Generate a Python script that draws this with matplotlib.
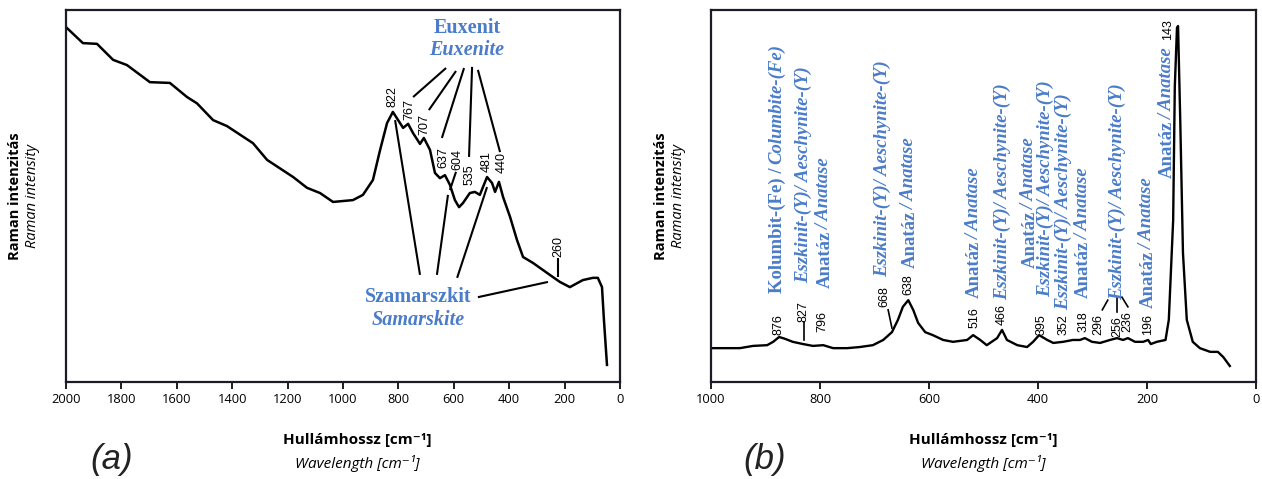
import matplotlib
matplotlib.use('Agg')
import matplotlib.pyplot as plt

# ---------------- data ----------------
wn_a = [2000, 1939, 1888, 1830, 1780, 1697, 1625, 1563, 1527, 1469, 1419, 1325, 1274, 1180, 1130,
        1083, 1036, 964, 928, 892, 866, 841, 820, 801, 783, 765, 747, 722, 708, 686, 668, 650, 632,
        614, 596, 581, 567, 542, 524, 506, 480, 462, 451, 437, 422, 397, 372, 350, 314, 278, 242,
        217, 181, 134, 98, 80, 65, 58, 47]
int_a = [95.4, 91.1, 90.9, 86.6, 85.2, 80.6, 80.4, 76.6, 74.9, 70.4, 68.8, 64.2, 59.7, 55.1, 52.2,
         50.8, 48.4, 48.9, 50.3, 54.3, 62.4, 69.6, 72.6, 70.4, 68.3, 69.4, 66.9, 64.0, 65.6, 62.4,
         56.2, 54.8, 55.6, 53.0, 48.9, 47.0, 48.1, 50.8, 51.1, 50.3, 55.1, 53.5, 51.1, 53.8, 49.7,
         44.4, 38.2, 33.6, 32.0, 30.1, 28.2, 26.9, 25.5, 27.4, 28.0, 28.0, 25.5, 16.7, 4.6]

wn_b = [1000, 947, 923, 897, 886, 875, 864, 850, 831, 813, 794, 776, 750, 727, 703, 684, 668, 657,
        648, 638, 629, 620, 607, 593, 574, 556, 530, 519, 506, 494, 475, 466, 457, 438, 420, 409,
        398, 383, 372, 354, 336, 323, 314, 301, 286, 268, 255, 244, 235, 222, 207, 198, 193, 182,
        166, 160, 152, 149, 145, 143, 139, 134, 127, 116, 103, 84, 70, 60, 48]
int_b = [9.1, 9.1, 9.7, 9.9, 10.8, 12.1, 11.6, 10.8, 10.2, 9.7, 9.9, 9.1, 9.1, 9.4, 9.9, 11.3, 13.4,
         16.7, 20.2, 22.0, 19.4, 15.9, 13.4, 12.6, 11.3, 10.8, 11.3, 12.6, 11.3, 9.9, 11.8, 14.0,
         11.3, 9.9, 9.4, 10.8, 12.6, 11.3, 10.5, 10.8, 11.3, 11.3, 11.8, 10.8, 10.5, 11.3, 11.8,
         11.3, 11.8, 10.8, 10.8, 11.3, 10.2, 10.8, 11.3, 16.7, 43.5, 79.3, 95.2, 95.7, 70.4, 34.7,
         16.7, 10.8, 9.1, 8.1, 8.1, 6.7, 4.3]

peaks_a = ['822', '767', '707', '637', '604', '535', '481', '440', '260']
peaks_b = ['876', '827', '796', '668', '638', '516', '466', '395', '352', '318', '296', '256',
           '236', '196', '143']
ticks_a = [2000, 1800, 1600, 1400, 1200, 1000, 800, 600, 400, 200, 0]
ticks_b = [1000, 800, 600, 400, 200, 0]

# ---------------- style ----------------
BLUE = '#4a7cc9'
SPINE = '#1c1c28'
SANS = ['Open Sans', 'DejaVu Sans']
SERIF = 'Liberation Serif'
NUM = 'Liberation Sans'

fig = plt.figure(figsize=(12.62, 4.79), dpi=100)
axa = fig.add_axes([66 / 1262, 97 / 479, 554 / 1262, 372 / 479])
axb = fig.add_axes([711 / 1262, 97 / 479, 545 / 1262, 372 / 479])

for ax, ticks, xmax in ((axa, ticks_a, 2000), (axb, ticks_b, 1000)):
    ax.set_xlim(xmax, 0)
    ax.set_ylim(0, 100)
    ax.set_yticks([])
    ax.set_xticks(ticks)
    for s in ax.spines.values():
        s.set_linewidth(1.6)
        s.set_color(SPINE)
    ax.tick_params(axis='x', direction='out', length=5, width=1.4, color=SPINE,
                   labelsize=9.3, pad=3)
    for lab in ax.get_xticklabels():
        lab.set_family(SANS)

axa.plot(wn_a, int_a, color='black', lw=1.8, solid_joinstyle='round')
axb.plot(wn_b, int_b, color='black', lw=1.7, solid_joinstyle='round')

# ---------------- number labels ----------------
pos_a = [(823, 73.9), (762, 70.4), (708, 66.4), (639, 57.5), (588, 57.0), (542, 53.0),
         (480, 56.5), (426, 56.2), (224, 33.6)]
for txt, (x, y) in zip(peaks_a, pos_a):
    axa.text(x, y, txt, rotation=90, ha='center', va='bottom', fontsize=9, family=NUM)

pos_b = [(877, 12.6), (830, 16.2), (795, 13.4), (681, 20.2), (638, 23.4), (516, 14.5),
         (466, 15.3), (393, 12.6), (354, 12.6), (317, 13.4), (290, 12.6), (255, 12.1),
         (237, 13.4), (198, 12.6), (161, 91.9)]
for txt, (x, y) in zip(peaks_b, pos_b):
    axb.text(x, y, txt, rotation=90, ha='center', va='bottom', fontsize=9, family=NUM)

# ---------------- leader lines ----------------
kw = dict(color='black', lw=1.5, solid_capstyle='butt')
segs_a = [((747, 628), (76.6, 84.4)), ((690, 592), (73.1, 83.6)), ((643, 563), (65.6, 84.4)),
          ((545, 534), (60.5, 84.7)), ((433, 513), (61.8, 83.9)),
          ((722, 812), (28.8, 70.4)), ((661, 621), (28.8, 50.3)), ((588, 480), (28.0, 52.4)),
          ((614, 592), (51.6, 56.5)), ((513, 260), (22.8, 26.9)), ((224, 224), (33.3, 28.2))]
for xs, ys in segs_a:
    axa.plot(xs, ys, **kw)

segs_b = [((830, 830), (16.0, 11.3)), ((675, 668), (19.4, 14.5)), ((282, 272), (19.4, 22.0)),
          ((255, 255), (18.8, 22.8)), ((246, 235), (22.8, 20.2))]
for xs, ys in segs_b:
    axb.plot(xs, ys, color='black', lw=1.2)

# ---------------- mineral names ----------------
axa.text(552, 95.2, 'Euxenit', ha='center', va='center', fontsize=14.5, family=SERIF,
         fontweight='bold', color=BLUE)
axa.text(552, 89.2, 'Euxenite', ha='center', va='center', fontsize=14.5, family=SERIF,
         fontweight='bold', fontstyle='italic', color=BLUE)
axa.text(729, 22.8, 'Szamarszkit', ha='center', va='center', fontsize=14.5, family=SERIF,
         fontweight='bold', color=BLUE)
axa.text(729, 16.7, 'Samarskite', ha='center', va='center', fontsize=14.5, family=SERIF,
         fontweight='bold', fontstyle='italic', color=BLUE)


def stack(ax, x, y, parts, size=13.5):
    prev = None
    for txt, style, weight, gap in parts:
        k = dict(rotation=90, ha='center', va='bottom', color=BLUE, fontsize=size,
                 family=SERIF, fontstyle=style, fontweight=weight)
        if prev is None:
            prev = ax.text(x, y, txt, **k)
        else:
            prev = ax.annotate(txt, xy=(0.5, 1), xycoords=prev, xytext=(0, gap),
                               textcoords='offset points', **k)


KOL = [('Kolumbit-(Fe) /', 'normal', 'bold', 0), ('Columbite-(Fe)', 'italic', 'bold', 2.5)]
ESZ = [('Eszkinit-(Y)/ Aeschynite-(Y)', 'italic', 'bold', 0)]
ANA = [('Anatáz', 'normal', 'bold', 0), ('/ Anatase', 'italic', 'bold', 0.5)]

labels_b = [(879, 23.9, KOL), (831, 26.6, ESZ), (791, 25.3, ANA), (686, 28.2, ESZ),
            (635, 30.6, ANA), (516, 22.6, ANA), (466, 22.0, ESZ), (415, 30.6, ANA),
            (387, 22.8, ESZ), (354, 19.4, ESZ), (317, 22.6, ANA), (255, 22.0, ESZ),
            (198, 19.9, ANA), (163, 54.8, ANA)]
for x, y, parts in labels_b:
    stack(axb, x, y, parts)

# ---------------- axis titles ----------------
for cx in (357, 983):
    fig.text(cx / 1262, 1 - 440 / 479, 'Hullámhossz [cm⁻¹]', ha='center', va='center',
             fontsize=11, fontweight='bold', family=SANS)
    fig.text(cx / 1262, 1 - 463 / 479, 'Wavelength [cm⁻¹]', ha='center', va='center',
             fontsize=11, fontstyle='italic', family=SANS)

fig.text(112 / 1262, 1 - 459 / 479, '(a)', ha='center', va='center', fontsize=25,
         fontstyle='italic', family=NUM, color='#222222')
fig.text(765 / 1262, 1 - 459 / 479, '(b)', ha='center', va='center', fontsize=25,
         fontstyle='italic', family=NUM, color='#222222')

for x1, x2 in ((15, 33), (661, 679)):
    fig.text(x1 / 1262, 1 - 196 / 479, 'Raman intenzitás', rotation=90, ha='center',
             va='center', fontsize=10.5, fontweight='bold', family=SANS)
    fig.text(x2 / 1262, 1 - 196 / 479, 'Raman intensity', rotation=90, ha='center',
             va='center', fontsize=10.5, fontstyle='italic', family=SANS)

fig.savefig('out.png', dpi=100, facecolor='white')
